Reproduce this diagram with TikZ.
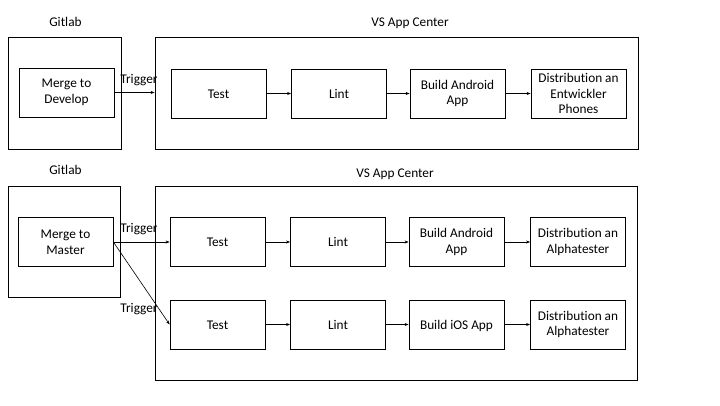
\documentclass[tikz,border=0pt]{standalone}
\usepackage{fontspec}
\setmainfont{Carlito}[Ligatures=NoCommon]
\usetikzlibrary{arrows.meta}
\begin{document}
\begin{tikzpicture}[x=1pt,y=-1pt,
  every node/.style={font=\fontsize{13.3}{15.8}\selectfont, inner sep=0pt},
  stepbox/.style={draw, line width=0.8pt, minimum width=95pt, minimum height=49pt, align=center},
  oneline/.style={text height=10.5pt, text depth=1.5pt},
  frame/.style={draw, line width=0.8pt},
  conn/.style={line width=0.6pt, -{Stealth[length=4pt,width=3pt]}},
  title/.style={oneline}]
\useasboundingbox (0,0) rectangle (720,405);
\fill[white] (0,0) rectangle (720,405);
% ---------- top ----------
\node[title] (gl1) at (65.5,22) {Gitlab};
\node[title] (vs1) at (410,22) {VS App Center};
\node[frame, minimum width=113pt, minimum height=112pt] (g1) at (64.5,93) {};
\node[frame, minimum width=483pt, minimum height=112pt] (v1) at (396.5,93) {};
\node[stepbox] (md) at (66.5,92.5) {Merge to\\Develop};
\node[stepbox, oneline] (t1) at (218.5,93.5) {Test};
\node[stepbox, oneline] (l1) at (339,93.5) {Lint};
\node[stepbox] (b1) at (457.5,93.5) {Build Android\\App};
\node[stepbox] (d1) at (578.5,93.5) {Distribution an\\Entwickler\\Phones};
\draw[conn] (md.east) -- (md.east -| v1.west);
\node[oneline] (tr1) at (139,79) {Trigger};
\draw[conn] (t1) -- (l1);
\draw[conn] (l1) -- (b1);
\draw[conn] (b1) -- (d1);
% ---------- bottom ----------
\node[title] (gl2) at (65.5,170) {Gitlab};
\node[title] (vs2) at (395,173) {VS App Center};
\node[frame, minimum width=112pt, minimum height=111pt] (g2) at (64,241.5) {};
\node[frame, minimum width=482pt, minimum height=194pt] (v2) at (396,283) {};
\node[stepbox] (mm) at (65.5,242) {Merge to\\Master};
\node[stepbox, oneline] (t2) at (217.5,242) {Test};
\node[stepbox, oneline] (l2) at (338,242) {Lint};
\node[stepbox] (b2) at (456.5,242) {Build Android\\App};
\node[stepbox] (d2) at (578,242) {Distribution an\\Alphatester};
\node[stepbox, oneline] (t3) at (217.5,324.5) {Test};
\node[stepbox, oneline] (l3) at (338,324.5) {Lint};
\node[stepbox, oneline] (b3) at (456.5,324.5) {Build iOS App};
\node[stepbox] (d3) at (578,324.5) {Distribution an\\Alphatester};
\draw[conn] (mm.east) -- (t2.west);
\draw[conn] (mm.east) -- (t3.west);
\node[oneline] (tr2) at (139,228) {Trigger};
\node[oneline] (tr3) at (139,308) {Trigger};
\draw[conn] (t2) -- (l2);
\draw[conn] (l2) -- (b2);
\draw[conn] (b2) -- (d2);
\draw[conn] (t3) -- (l3);
\draw[conn] (l3) -- (b3);
\draw[conn] (b3) -- (d3);
\end{tikzpicture}
\end{document}
